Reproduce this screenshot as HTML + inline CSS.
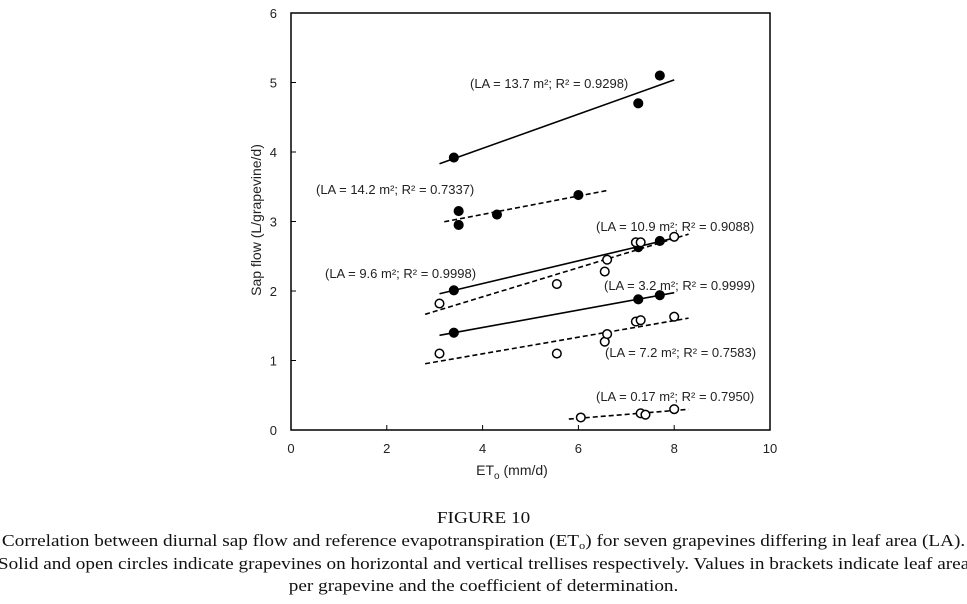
<!DOCTYPE html>
<html><head><meta charset="utf-8"><style>
body{margin:0;background:#fff;width:967px;height:604px;overflow:hidden;position:relative}
svg{position:absolute;left:0;top:0}
.cap{position:absolute;left:0;width:967px;text-align:center;font-family:"Liberation Serif",serif;font-size:17px;color:#111;line-height:20px;white-space:nowrap;transform:scaleX(1.13);transform-origin:483px 0}
.cap sub{font-size:11px;line-height:0;vertical-align:-3px}
</style></head><body>
<svg width="967" height="500" id="chart" font-family="Liberation Sans, sans-serif">
</svg>
<div class="cap" style="top:508px">FIGURE 10</div>
<div class="cap" style="top:531px">Correlation between diurnal sap flow and reference evapotranspiration (ET<sub>o</sub>) for seven grapevines differing in leaf area (LA).</div>
<div class="cap" style="top:554px">Solid and open circles indicate grapevines on horizontal and vertical trellises respectively. Values in brackets indicate leaf area</div>
<div class="cap" style="top:576px">per grapevine and the coefficient of determination.</div>
<script>
const seriesNames=["la-13-7","la-14-2","la-9-6","la-10-9","la-3-2","la-7-2","la-0-17"];
const seriesFilled=[true,true,true,false,true,false,false];
const seriesDashed=[false,true,false,true,false,true,true];
const seriesX=[[3.4,7.25,7.7],[3.5,3.5,4.3,6.0],[3.4,7.25,7.7],[3.1,5.55,6.55,6.6,7.2,7.3,8.0],[3.4,7.25,7.7],[3.1,5.55,6.55,6.6,7.2,7.3,8.0],[6.05,7.3,7.4,8.0]];
const seriesY=[[3.92,4.7,5.1],[3.15,2.95,3.1,3.38],[2.01,2.63,2.72],[1.82,2.1,2.28,2.45,2.7,2.7,2.78],[1.4,1.88,1.94],[1.1,1.1,1.27,1.38,1.56,1.58,1.63],[0.18,0.24,0.22,0.3]];
const lineStart=[3.1,3.2,3.1,2.8,3.1,2.8,5.8];
const lineEnd=[8.0,6.6,8.0,8.3,8.0,8.3,8.3];
const labels=["(LA = 13.7 m²; R² = 0.9298)","(LA = 14.2 m²; R² = 0.7337)","(LA = 9.6 m²; R² = 0.9998)","(LA = 10.9 m²; R² = 0.9088)","(LA = 3.2 m²; R² = 0.9999)","(LA = 7.2 m²; R² = 0.7583)","(LA = 0.17 m²; R² = 0.7950)"];
const labelX=[470,316,325,596,604,605,596];
const labelY=[88,194,278,231,290,357,401];
const xTicks=[0,2,4,6,8,10];
const yTicks=[0,1,2,3,4,5,6];
const NS="http://www.w3.org/2000/svg";
const svg=document.getElementById('chart');
const X0=291,X1=770,Y0=430,Y1=13;
const sx=v=>X0+(X1-X0)*v/10, sy=v=>Y0-(Y0-Y1)*v/6;
function mk(t,a){const e=document.createElementNS(NS,t);for(const k in a)e.setAttribute(k,a[k]);svg.appendChild(e);return e;}
const frame=mk('rect',{x:X0,y:Y1,width:X1-X0,height:Y0-Y1,fill:'none',stroke:'#000','stroke-width':1.5});


xTicks.forEach(v=>{
  const t=mk('line',{x1:sx(v),x2:sx(v),y1:Y0,y2:Y0-5,stroke:'#000'});
  
  
  const l=mk('text',{x:sx(v),y:Y0+23,'text-anchor':'middle','font-size':13,fill:'#222'});l.textContent=v;
  
  
});
yTicks.forEach(v=>{
  const t=mk('line',{x1:X0,x2:X0+5,y1:sy(v),y2:sy(v),stroke:'#000'});
  
  
  const l=mk('text',{x:X0-14,y:sy(v)+5,'text-anchor':'end','font-size':13,fill:'#222'});l.textContent=v;
  
  
});
const xt=mk('text',{x:512,y:475,'text-anchor':'middle','font-size':14,fill:'#222'});
xt.innerHTML='ET<tspan font-size="10" dy="4">o</tspan><tspan dy="-4"> (mm/d)</tspan>';


const yt=mk('text',{x:0,y:0,'text-anchor':'middle','font-size':14,fill:'#222',transform:'translate(261,220) rotate(-90)'});
yt.textContent='Sap flow (L/grapevine/d)';


seriesX.forEach((xs,i)=>{
  const ys=seriesY[i],n=xs.length;
  const mx=xs.reduce((a,b)=>a+b)/n,my=ys.reduce((a,b)=>a+b)/n;
  let sxy=0,sxx=0;xs.forEach((x,j)=>{sxy+=(x-mx)*(ys[j]-my);sxx+=(x-mx)*(x-mx);});
  const b=sxy/sxx,a=my-b*mx;
  const ln=mk('line',{x1:sx(lineStart[i]),y1:sy(a+b*lineStart[i]),x2:sx(lineEnd[i]),y2:sy(a+b*lineEnd[i]),stroke:'#000','stroke-width':1.6,'stroke-dasharray':seriesDashed[i]?'5,3':'none'});
  
  
  xs.forEach((x,j)=>{
    const c=mk('circle',{cx:sx(x),cy:sy(ys[j]),r:4.3,fill:seriesFilled[i]?'#000':'#fff',stroke:'#000','stroke-width':1.5});
    
    
  });
  const t=mk('text',{x:labelX[i],y:labelY[i],'font-size':13,fill:'#222'});
  t.textContent=labels[i];
  
  
});
</script>
</body></html>
